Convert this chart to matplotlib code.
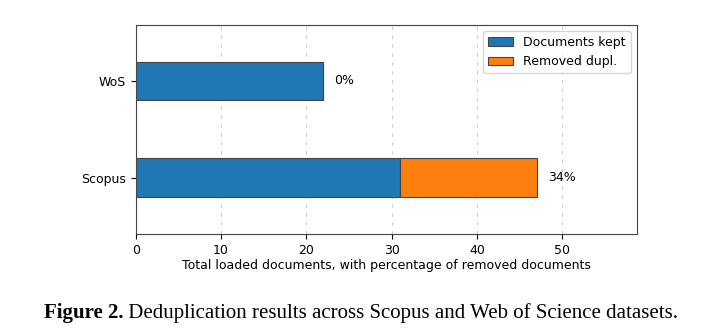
import matplotlib
matplotlib.use("Agg")
import matplotlib.pyplot as plt

# datos
fuentes = ["Scopus", "WoS"]
conservados = [31, 22]
duplicados = [16, 0]
etiquetas_leyenda = ["Documents kept", "Removed dupl."]
titulo_x = "Total loaded documents, with percentage of removed documents"
leyenda_fig = "Deduplication results across Scopus and Web of Science datasets."

fig = plt.figure(figsize=(7.22, 3.36), dpi=100)
ax = fig.add_axes([0.188, 0.304, 0.694, 0.622])

pos = range(len(fuentes))
ax.barh(pos, conservados, height=0.4, color="#1f77b4", edgecolor="#444444",
        linewidth=0.8, label=etiquetas_leyenda[0], zorder=3)
ax.barh(pos, duplicados, left=conservados, height=0.4, color="#ff7f0e",
        edgecolor="#444444", linewidth=0.8, label=etiquetas_leyenda[1], zorder=3)

totales = [c + d for c, d in zip(conservados, duplicados)]
for i, (t, d) in enumerate(zip(totales, duplicados)):
    pct = round(100 * d / t)
    ax.text(t + 1.3, i, f"{pct}%", va="center", ha="left", fontsize=9)

ax.set_yticks(list(pos))
ax.set_yticklabels(fuentes, fontsize=9)
ax.tick_params(axis="x", labelsize=9)
ax.set_xlim(0, max(totales) * 1.25)
ax.set_ylim(-0.58, 1.58)
ax.set_xlabel(titulo_x, fontsize=9, labelpad=2)
ax.grid(axis="x", linestyle=(0, (3, 5)), color="#cccccc", linewidth=0.8, zorder=0)
for s in ax.spines.values():
    s.set_color("#444444")
ax.legend(loc="upper right", fontsize=9)

# pie de figura
fig.canvas.draw()
r = fig.canvas.get_renderer()
t1 = fig.text(0, 0.068, "Figure 2.", fontsize=15, fontweight="bold",
              family="Liberation Serif", va="center")
t2 = fig.text(0, 0.068, " " + leyenda_fig, fontsize=15,
              family="Liberation Serif", va="center")
w1 = t1.get_window_extent(r).width
w2 = t2.get_window_extent(r).width
x0 = (722 - (w1 + w2)) / 2
t1.set_x(x0 / 722)
t2.set_x((x0 + w1) / 722)

fig.savefig("out.png", dpi=100)
